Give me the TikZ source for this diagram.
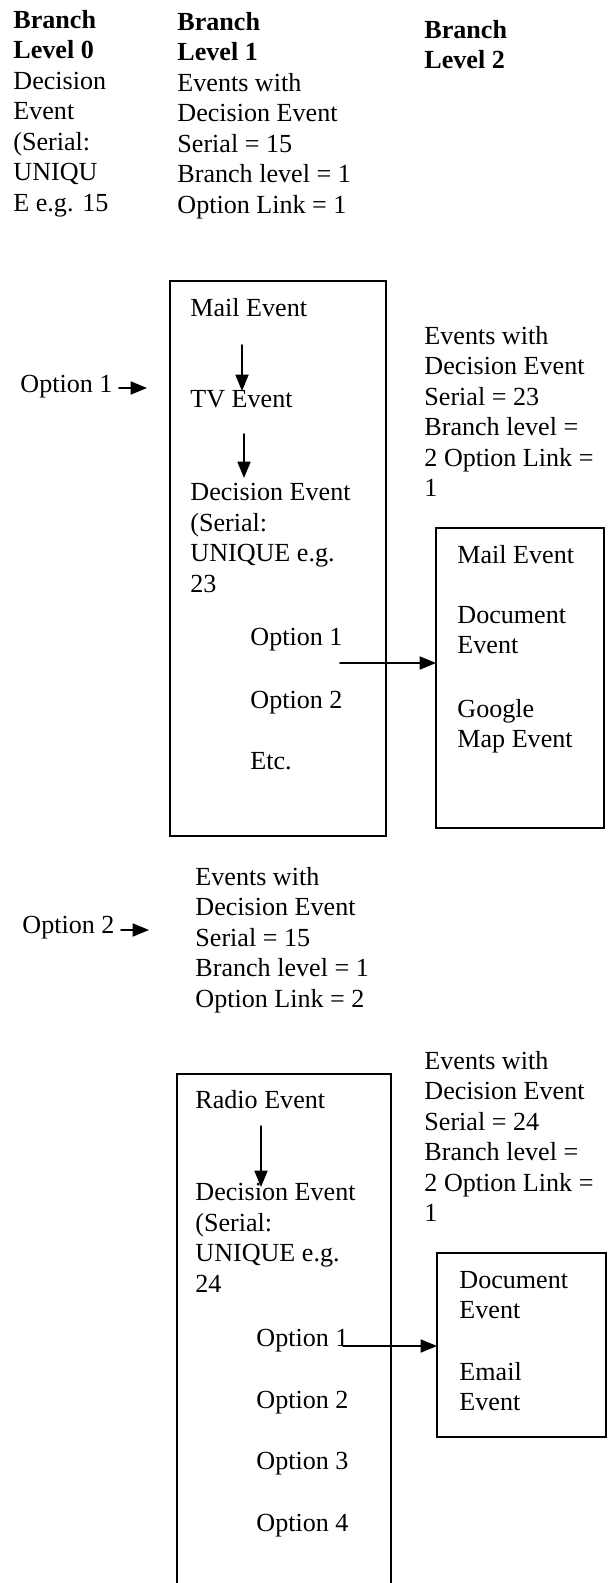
\documentclass[tikz,border=0pt]{standalone}
\usepackage{fontspec}
\setmainfont{Liberation Serif}
\usetikzlibrary{arrows.meta}

\begin{document}
\begin{tikzpicture}[x=0.46pt,y=-0.46pt,line cap=round]
	\tikzstyle{txt}=[anchor=north west,inner sep=0pt,align=left,font=\fontsize{12}{14}\selectfont];
	\tikzstyle{boxline}=[line width=0.9pt];
	\tikzstyle{arr}=[-{Triangle[length=7.5pt,width=6pt]},line width=0.7pt];
	\useasboundingbox (0,0) rectangle (615,1583);
	% column heads
	\node[txt] (lvl0) at (13,10) {\textbf{Branch}\\\textbf{Level 0}\\Decision\\Event\\(Serial:\\UNIQU\\E e.g. 15};
	\node[txt] (lvl1) at (177,12) {\textbf{Branch}\\\textbf{Level 1}\\Events with\\Decision Event\\Serial = 15\\Branch level = 1\\Option Link = 1};
	\node[txt] (lvl2) at (424,20) {\textbf{Branch}\\\textbf{Level 2}};
	% option 1 branch
	\node[txt] (opt1) at (20,375) {Option 1};
	\coordinate (opt1a) at (119,388);
	\coordinate (opt1b) at (147,388);
	\draw[arr] (opt1a) -- (opt1b);
	\coordinate (b1nw) at (170,281);
	\coordinate (b1se) at (386,836);
	\draw[boxline] (b1nw) rectangle (b1se);
	\node[txt] (mail) at (190,298) {Mail Event};
	\node[txt] (tv) at (190,390) {TV Event};
	\node[txt] (dec23) at (190,483) {Decision Event\\(Serial:\\UNIQUE e.g.\\23};
	\coordinate (m1) at (242,345);
	\coordinate (m2) at (242,391);
	\coordinate (t1) at (244,434);
	\coordinate (t2) at (244,478);
	\draw[arr] (m1) -- (m2);
	\draw[arr] (t1) -- (t2);
	\node[txt] (o11) at (250,628) {Option 1};
	\node[txt] (o12) at (250,691) {Option 2};
	\node[txt] (o13) at (250,752) {Etc.};
	\node[txt] (ev23) at (424,326) {Events with\\Decision Event\\Serial = 23\\Branch level =\\2 Option Link =\\1};
	\coordinate (b2nw) at (436,528);
	\coordinate (b2se) at (604,828);
	\draw[boxline] (b2nw) rectangle (b2se);
	\node[txt] (mail2) at (457,545) {Mail Event};
	\node[txt] (doc2) at (457,606) {Document\\Event};
	\node[txt] (map2) at (457,699) {Google\\Map Event};
	\coordinate (o11a) at (340,663);
	\draw[arr] (o11a) -- (o11a -| b2nw);
	% option 2 branch
	\node[txt] (opt2) at (22,916) {Option 2};
	\coordinate (opt2a) at (121,930);
	\coordinate (opt2b) at (149,930);
	\draw[arr] (opt2a) -- (opt2b);
	\node[txt] (ev15) at (195,867) {Events with\\Decision Event\\Serial = 15\\Branch level = 1\\Option Link = 2};
	\coordinate (b3sw) at (177,1583);
	\coordinate (b3ne) at (391,1074);
	\coordinate (b3se) at (391,1583);
	\draw[boxline] (b3sw) |- (b3ne) -- (b3se);
	\node[txt] (radio) at (195,1090) {Radio Event};
	\node[txt] (dec24) at (195,1183) {Decision Event\\(Serial:\\UNIQUE e.g.\\24};
	\coordinate (r1) at (261,1126);
	\coordinate (r2) at (261,1187);
	\draw[arr] (r1) -- (r2);
	\node[txt] (o21) at (256,1329) {Option 1};
	\node[txt] (o22) at (256,1391) {Option 2};
	\node[txt] (o23) at (256,1452) {Option 3};
	\node[txt] (o24) at (256,1514) {Option 4};
	\node[txt] (ev24) at (424,1051) {Events with\\Decision Event\\Serial = 24\\Branch level =\\2 Option Link =\\1};
	\coordinate (b4nw) at (437,1253);
	\coordinate (b4se) at (606,1437);
	\draw[boxline] (b4nw) rectangle (b4se);
	\node[txt] (doc4) at (459,1271) {Document\\Event};
	\node[txt] (mail4) at (459,1362) {Email\\Event};
	\coordinate (o21a) at (343,1346);
	\draw[arr] (o21a) -- (o21a -| b4nw);
\end{tikzpicture}
\end{document}
